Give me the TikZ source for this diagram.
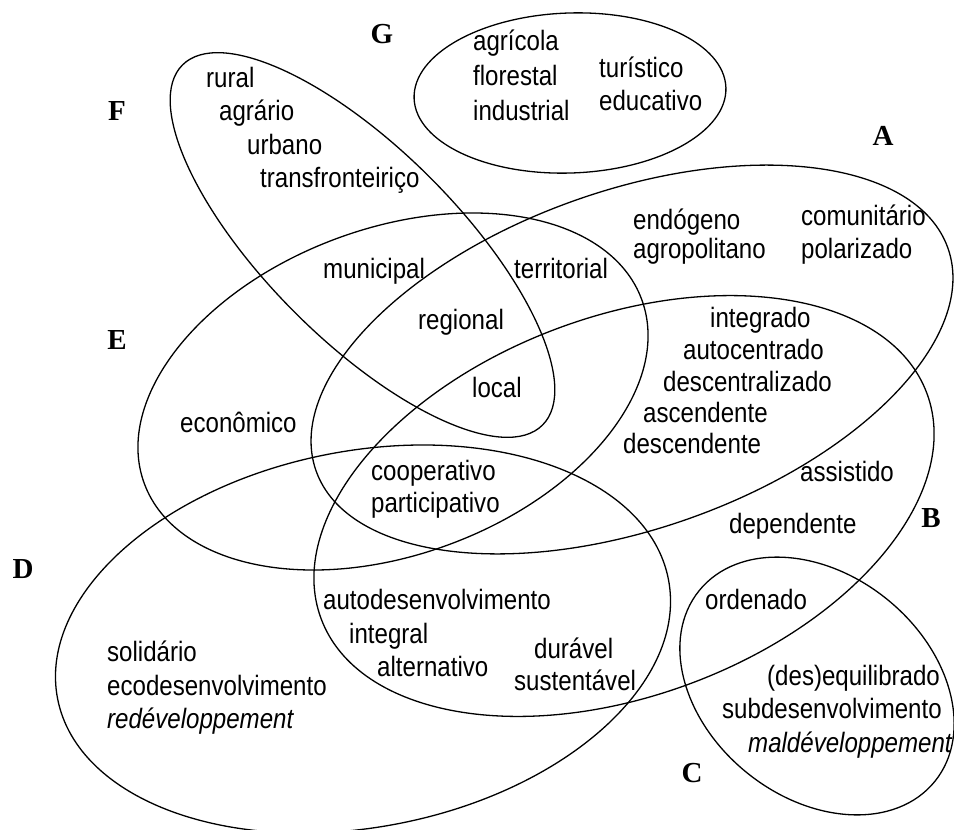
\documentclass[tikz,border=0pt]{standalone}
\usepackage{fontspec}
\setmainfont{Liberation Sans}[FakeStretch=0.86]
\newfontfamily\letterfont{Liberation Serif}
\begin{document}
\begin{tikzpicture}[x=1pt,y=-1pt,
  venn/.style={draw=black, line width=1.3pt},
  term/.style={anchor=base west, inner sep=0pt, font=\fontsize{28}{32}\selectfont},
  lab/.style={anchor=base, inner sep=0pt, font=\letterfont\bfseries\fontsize{29}{32}\selectfont}]
\useasboundingbox (0,0) rectangle (954,830);
% ellipses
\draw[venn, rotate around={2:(570,93)}] (570,93) ellipse [x radius=156, y radius=80];       % G
\draw[venn, rotate around={-45:(362.5,245)}] (362.5,245) ellipse [x radius=254.6, y radius=95.5]; % F
\draw[venn, rotate around={20.35:(393,391.5)}] (393,391.5) ellipse [x radius=265.2, y radius=163]; % E
\draw[venn, rotate around={19.4:(632,359.5)}] (632,359.5) ellipse [x radius=335, y radius=169]; % A
\draw[venn, rotate around={20.4:(624,506)}] (624,506) ellipse [x radius=323.2, y radius=189.6]; % B
\draw[venn, rotate around={11.1:(363,639)}] (363,639) ellipse [x radius=311.2, y radius=188]; % D
\draw[venn, rotate around={-39:(817,686)}] (817,686) ellipse [x radius=151.6, y radius=111.5]; % C
% set labels
\node[lab] (lG) at (382,43) {G};
\node[lab] (lF) at (117,120) {F};
\node[lab] (lE) at (117,349) {E};
\node[lab] (lD) at (23,578) {D};
\node[lab] (lC) at (692,782) {C};
\node[lab] (lB) at (931,527) {B};
\node[lab] (lA) at (883,145) {A};
% G
\node[term] (agricola) at (473,50) {agrícola};
\node[term] (florestal) at (473,85) {florestal};
\node[term] (industrial) at (473,120) {industrial};
\node[term] (turistico) at (599,77) {turístico};
\node[term] (educativo) at (599,110) {educativo};
% F
\node[term] (rural) at (206,87) {rural};
\node[term] (agrario) at (219,120) {agrário};
\node[term] (urbano) at (247,154) {urbano};
\node[term] (transf) at (260,187) {transfronteiriço};
% E / A / F
\node[term] (municipal) at (323,278) {municipal};
\node[term] (territorial) at (514,278) {territorial};
\node[term] (regional) at (418,329) {regional};
\node[term] (local) at (472,397) {local};
\node[term] (economico) at (180,432) {econômico};
\node[term] (cooperativo) at (371,480) {cooperativo};
\node[term] (participativo) at (371,512) {participativo};
% A
\node[term] (endogeno) at (633,229) {endógeno};
\node[term] (agropolitano) at (633,258) {agropolitano};
\node[term] (comunitario) at (801,225) {comunitário};
\node[term] (polarizado) at (801,258) {polarizado};
% A and B
\node[term] (integrado) at (710,327) {integrado};
\node[term] (autocentrado) at (683,359) {autocentrado};
\node[term] (descentralizado) at (663,391) {descentralizado};
\node[term] (ascendente) at (643,422) {ascendente};
\node[term] (descendente) at (623,453) {descendente};
% B
\node[term] (assistido) at (800,481) {assistido};
\node[term] (dependente) at (729,533) {dependente};
\node[term] (ordenado) at (705,609) {ordenado};
% C
\node[term] (desequilibrado) at (767,685) {(des)equilibrado};
\node[term] (subdesenv) at (722,718) {subdesenvolvimento};
\node[term] (maldev) at (748,752) {\itshape maldéveloppement};
% B and D
\node[term] (autodesenv) at (323,609) {autodesenvolvimento};
\node[term] (integral) at (349,643) {integral};
\node[term] (alternativo) at (377,676) {alternativo};
\node[term] (duravel) at (534,658) {durável};
\node[term] (sustentavel) at (514,690) {sustentável};
% D
\node[term] (solidario) at (107,661) {solidário};
\node[term] (ecodesenv) at (107,695) {ecodesenvolvimento};
\node[term] (redev) at (107,728) {\itshape redéveloppement};
\end{tikzpicture}
\end{document}
